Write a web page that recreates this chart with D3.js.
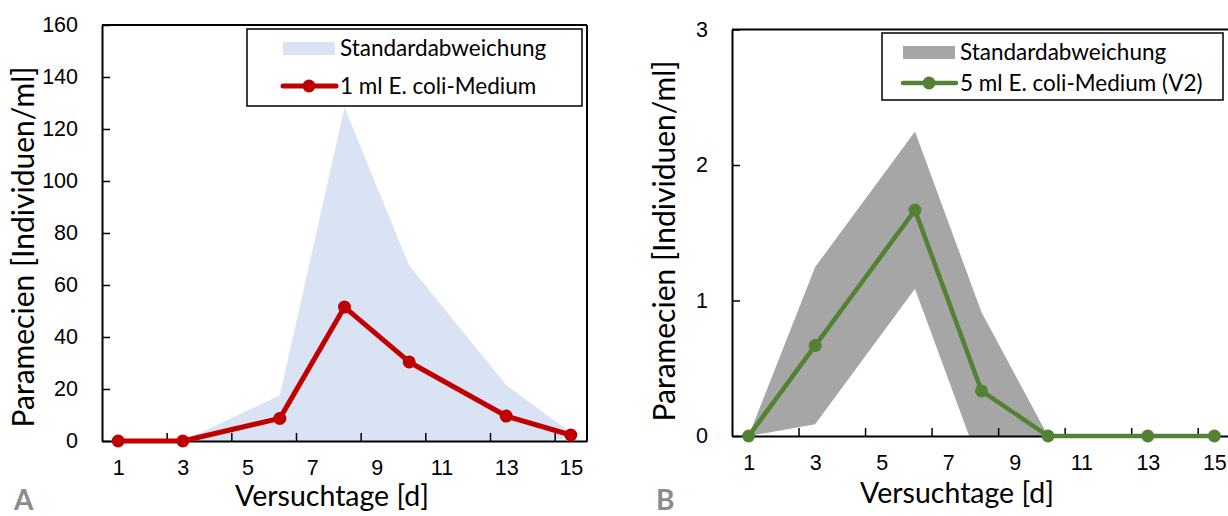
<!DOCTYPE html>
<html>
<head>
<meta charset="utf-8">
<script src="https://cdn.jsdelivr.net/npm/d3@7"></script>
<style>
  body { margin: 0; background: #fff; }
  svg { display: block; font-family: Lato, "Open Sans", sans-serif; }
  .axis path, .axis line { stroke: #000; }
</style>
</head>
<body>
<svg id="chart" width="1228" height="516"></svg>
<script>
// data
var days = [1, 3, 6, 8, 10, 13, 15];
var meanA = [0, 0, 8.7, 51.5, 30.4, 9.6, 2.3];
var sdA = [0, 0, 8.9, 76.8, 37.1, 11.9, 1.0];
var meanB = [0, 0.667, 1.667, 0.333, 0, 0, 0];
var sdB = [0, 0.58, 0.58, 0.58, 0, 0, 0];
var xLabels = [1, 3, 5, 7, 9, 11, 13, 15];
var xTicks = [2.5, 4.5, 6.5, 8.5, 10.5, 12.5, 14.5];
var yTicksA = [0, 20, 40, 60, 80, 100, 120, 140, 160];
var yTicksB = [0, 1, 2, 3];

var svg = d3.select("#chart");

function panel(opt) {
  var x = d3.scaleLinear().domain([0.5, 15.5]).range([opt.left, opt.right]);
  var y = d3.scaleLinear().domain([0, opt.ymax]).range([opt.bottom, opt.top]);
  var g = svg.append("g");

  g.append("clipPath").attr("id", "clip" + opt.id)
    .append("rect")
      .attr("x", opt.left).attr("y", opt.top)
      .attr("width", opt.right - opt.left).attr("height", opt.bottom - opt.top);

  var rows = days.map(function(d, i) {
    return { day: d, mean: opt.mean[i], lo: opt.mean[i] - opt.sd[i], hi: opt.mean[i] + opt.sd[i] };
  });

  // standard deviation band
  var area = d3.area()
    .x(function(d) { return x(d.day); })
    .y0(function(d) { return y(d.lo); })
    .y1(function(d) { return y(d.hi); });
  g.append("path")
    .datum(rows)
    .attr("clip-path", "url(#clip" + opt.id + ")")
    .attr("fill", opt.bandColor)
    .attr("d", area);

  // frame
  g.append("line")
    .attr("x1", opt.left).attr("x2", opt.right)
    .attr("y1", opt.top).attr("y2", opt.top)
    .attr("stroke", "#000").attr("stroke-width", 2);
  g.append("line")
    .attr("x1", opt.right).attr("x2", opt.right)
    .attr("y1", opt.top).attr("y2", opt.bottom)
    .attr("stroke", "#000").attr("stroke-width", 2);

  // y axis
  var ya = g.append("g").attr("class", "axis")
    .attr("transform", "translate(" + opt.left + ",0)")
    .call(d3.axisLeft(y).tickValues(opt.yTicks).tickFormat(d3.format("d"))
      .tickSize(-8).tickPadding(24).tickSizeOuter(0));
  ya.select(".domain").attr("stroke-width", 2);
  ya.selectAll(".tick line").attr("stroke-width", 1.5);
  ya.selectAll("text").attr("font-size", 21.5).attr("fill", "#000");

  // x axis: ticks between the labels
  var xa = g.append("g").attr("class", "axis")
    .attr("transform", "translate(0," + opt.bottom + ")")
    .call(d3.axisBottom(x).tickValues(xTicks).tickSize(-8).tickSizeOuter(0));
  xa.select(".domain").attr("stroke-width", 2);
  xa.selectAll(".tick line").attr("stroke-width", 1.5);
  xa.selectAll(".tick text").remove();

  var xl = g.append("g")
    .attr("transform", "translate(0," + opt.bottom + ")")
    .call(d3.axisBottom(x).tickValues(xLabels).tickSize(0).tickPadding(19));
  xl.select(".domain").remove();
  xl.selectAll("text").attr("font-size", 21.5).attr("fill", "#000");

  // mean line and markers
  var line = d3.line()
    .x(function(d) { return x(d.day); })
    .y(function(d) { return y(d.mean); });
  g.append("path")
    .datum(rows)
    .attr("fill", "none")
    .attr("stroke", opt.lineColor)
    .attr("stroke-width", opt.lineWidth)
    .attr("stroke-linejoin", "round")
    .attr("d", line);
  g.selectAll(".dot")
    .data(rows)
    .enter().append("circle")
      .attr("cx", function(d) { return x(d.day); })
      .attr("cy", function(d) { return y(d.mean); })
      .attr("r", 6.5)
      .attr("fill", opt.lineColor);

  // titles
  g.append("text")
    .attr("x", opt.xTitleX).attr("y", opt.bottom + opt.xTitleDy)
    .attr("text-anchor", "middle")
    .attr("font-size", 28.5)
    .text("Versuchtage [d]");
  g.append("text")
    .attr("transform", "translate(" + opt.yTitleX + "," + opt.yTitleY + ") rotate(-90)")
    .attr("text-anchor", "middle")
    .attr("font-size", 30)
    .text("Paramecien [Individuen/ml]");
  g.append("text")
    .attr("x", opt.letterX).attr("y", 510)
    .attr("font-size", 28)
    .attr("font-weight", "bold")
    .attr("fill", "#8c8c8c")
    .text(opt.id);

  // legend
  var L = opt.legend;
  var lg = g.append("g");
  lg.append("rect")
    .attr("x", L.x).attr("y", L.y).attr("width", L.w).attr("height", L.h)
    .attr("fill", "#fff").attr("stroke", "#000").attr("stroke-width", 1.5);
  lg.append("rect")
    .attr("x", L.sx).attr("y", L.y + 13).attr("width", 52).attr("height", 13)
    .attr("fill", opt.bandColor);
  lg.append("text")
    .attr("x", L.sx + 57).attr("y", L.y + 27)
    .attr("font-size", 22.5)
    .text("Standardabweichung");
  lg.append("line")
    .attr("x1", L.sx).attr("x2", L.sx + 53)
    .attr("y1", L.y + L.ly).attr("y2", L.y + L.ly)
    .attr("stroke", opt.lineColor).attr("stroke-width", opt.lineWidth)
    .attr("stroke-linecap", "round");
  lg.append("circle")
    .attr("cx", L.sx + 26).attr("cy", L.y + L.ly).attr("r", 6.5)
    .attr("fill", opt.lineColor);
  lg.append("text")
    .attr("x", L.sx + 57).attr("y", L.y + L.ly + 8)
    .attr("font-size", 22.5)
    .text(opt.seriesName);
}

panel({
  id: "A", left: 102, right: 587, top: 25, bottom: 441, ymax: 160,
  yTicks: yTicksA, mean: meanA, sd: sdA,
  bandColor: "#dae3f3", lineColor: "#c00000", lineWidth: 5,
  seriesName: "1 ml E. coli-Medium",
  xTitleX: 332, xTitleDy: 65, yTitleX: 34, yTitleY: 247, letterX: 14,
  legend: { x: 247, y: 29, w: 335, h: 77, sx: 283, ly: 57 }
});

panel({
  id: "B", left: 732, right: 1231, top: 29.5, bottom: 436, ymax: 3,
  yTicks: yTicksB, mean: meanB, sd: sdB,
  bandColor: "#a6a6a6", lineColor: "#548235", lineWidth: 4.5,
  seriesName: "5 ml E. coli-Medium (V2)",
  xTitleX: 957, xTitleDy: 67, yTitleX: 675, yTitleY: 241, letterX: 656,
  legend: { x: 882, y: 33, w: 341, h: 67, sx: 903, ly: 50 }
});
</script>
</body>
</html>
